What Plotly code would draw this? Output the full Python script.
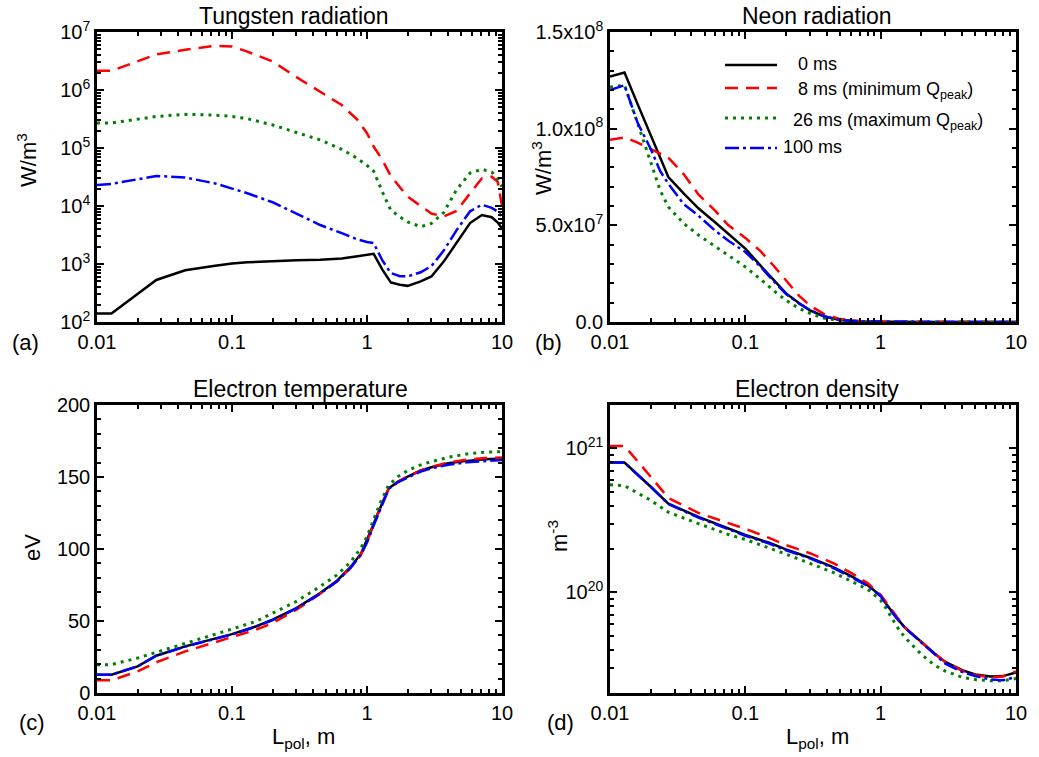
import plotly.graph_objects as go

# ---------------- data ----------------
SERIES_NAMES = ["   0 ms", "   8 ms (minimum Q<sub>peak</sub>)",
                "  26 ms (maximum Q<sub>peak</sub>)", "100 ms"]

# (a) Tungsten radiation, W/m^3
XA = [0.010, 0.0128, 0.0275, 0.045, 0.075, 0.10, 0.13, 0.20, 0.30, 0.45, 0.65, 0.85,
      1.00, 1.12, 1.30, 1.50, 1.75, 2.0, 2.5, 3.0, 3.7, 4.6, 5.8, 7.1, 8.4, 9.3, 10.0]
W_0MS = [140, 140, 530, 780, 930, 1020, 1070, 1130, 1160, 1180, 1240, 1360,
         1440, 1500, 800, 480, 440, 420, 500, 610, 1100, 2350, 5080, 7000, 6400, 5200, 4100]
W_8MS = [2.14e6, 2.14e6, 4.1e6, 4.95e6, 5.8e6, 5.65e6, 4.6e6, 3.1e6, 1.67e6, 9.4e5, 5.5e5, 3.05e5,
         1.8e5, 1.06e5, 6.2e4, 3.3e4, 2.1e4, 1.45e4, 1.0e4, 7.4e3, 6.6e3, 8.2e3, 1.65e4, 3.0e4, 3.2e4, 2.6e4, 1.0e4]
W_26MS = [2.7e5, 2.7e5, 3.5e5, 3.8e5, 3.7e5, 3.5e5, 3.2e5, 2.5e5, 1.85e5, 1.38e5, 9.5e4, 6.6e4,
          5.0e4, 4.0e4, 1.75e4, 8.5e3, 6.5e3, 5.3e3, 4.4e3, 5.0e3, 7.7e3, 1.9e4, 3.7e4, 4.3e4, 3.85e4, 2.9e4, 2.15e4]
W_100MS = [2.3e4, 2.4e4, 3.3e4, 3.1e4, 2.45e4, 2.0e4, 1.66e4, 1.16e4, 7.4e3, 4.7e3, 3.4e3, 2.65e3,
           2.4e3, 2.3e3, 1.15e3, 700, 615, 612, 720, 920, 1.7e3, 3.8e3, 8.1e3, 1.05e4, 9.3e3, 8.0e3, 6.5e3]

# (b) Neon radiation, W/m^3
XB = [0.010, 0.0128, 0.016, 0.020, 0.0235, 0.027, 0.035, 0.045, 0.060, 0.075, 0.10, 0.13,
      0.16, 0.20, 0.25, 0.30, 0.38, 0.50, 0.70, 1.0, 2.0, 10.0]
NE_0MS = [12.7e7, 12.9e7, 11.27e7, 9.63e7, 8.46e7, 7.5e7, 6.65e7, 5.88e7, 5.15e7, 4.58e7, 3.8e7, 2.9e7,
          2.2e7, 1.48e7, 0.97e7, 0.6e7, 0.3e7, 0.1e7, 0.03e7, 0.01e7, 0.003e7, 0.001e7]
NE_8MS = [9.42e7, 9.55e7, 9.28e7, 8.95e7, 8.7e7, 8.5e7, 7.65e7, 6.6e7, 5.75e7, 5.0e7, 4.35e7, 3.65e7,
          2.95e7, 2.16e7, 1.35e7, 0.85e7, 0.42e7, 0.15e7, 0.05e7, 0.02e7, 0.005e7, 0.002e7]
NE_26MS = [12.15e7, 12.25e7, 10.28e7, 8.2e7, 6.8e7, 5.95e7, 5.1e7, 4.5e7, 3.9e7, 3.44e7, 2.85e7, 2.2e7,
           1.65e7, 1.12e7, 0.7e7, 0.45e7, 0.2e7, 0.07e7, 0.02e7, 0.01e7, 0.003e7, 0.001e7]
NE_100MS = [12.0e7, 12.25e7, 10.3e7, 8.95e7, 7.8e7, 7.15e7, 6.1e7, 5.5e7, 4.72e7, 4.2e7, 3.62e7, 2.85e7,
            2.15e7, 1.45e7, 0.95e7, 0.62e7, 0.3e7, 0.1e7, 0.03e7, 0.01e7, 0.003e7, 0.001e7]

# (c) Electron temperature, eV
XC = [0.010, 0.0128, 0.02, 0.0275, 0.045, 0.075, 0.10, 0.15, 0.20, 0.30, 0.45, 0.60, 0.75,
      0.90, 1.0, 1.1, 1.25, 1.45, 1.7, 2.0, 2.5, 3.0, 4.0, 5.5, 7.5, 10.0]
TE_0MS = [12.7, 12.7, 18.5, 25.9, 32.4, 37.7, 40.9, 46.2, 50.9, 59.0, 69.4, 78.0, 87.2,
          96.6, 106.0, 115.6, 128.3, 142.2, 146.8, 150.3, 154.5, 156.8, 159.5, 161.2, 162.3, 162.8]
TE_8MS = [8.8, 8.8, 15.0, 21.3, 28.9, 35.4, 38.8, 43.9, 48.6, 57.8, 68.9, 77.5, 86.7,
          96.0, 105.0, 115.6, 128.3, 142.2, 146.8, 150.3, 154.5, 157.0, 160.0, 162.0, 163.2, 163.5]
TE_26MS = [19.7, 19.7, 24.3, 28.2, 34.7, 40.5, 44.4, 49.7, 55.5, 63.6, 74.0, 82.0, 90.6,
           100.6, 108.7, 119.0, 131.8, 144.5, 150.3, 154.5, 158.4, 160.7, 163.7, 166.0, 167.2, 167.6]
TE_100MS = [12.7, 12.7, 18.5, 25.9, 32.2, 37.5, 40.7, 46.0, 50.7, 58.7, 69.0, 77.6, 86.5,
            95.8, 104.5, 114.5, 127.5, 141.8, 146.5, 149.8, 153.8, 156.0, 158.5, 160.2, 161.3, 161.8]

# (d) Electron density, m^-3
XD = [0.010, 0.0128, 0.02, 0.027, 0.045, 0.075, 0.10, 0.15, 0.20, 0.30, 0.45, 0.60, 0.80,
      1.0, 1.1, 1.3, 1.5, 2.0, 2.5, 3.0, 4.0, 5.0, 6.5, 8.0, 10.0]
NE_D_0MS = [7.96e20, 7.96e20, 5.41e20, 4.13e20, 3.34e20, 2.76e20, 2.5e20, 2.21e20, 1.99e20, 1.74e20,
            1.49e20, 1.30e20, 1.12e20, 9.5e19, 8.3e19, 6.73e19, 5.74e19, 4.52e19, 3.76e19, 3.29e19,
            2.88e19, 2.69e19, 2.6e19, 2.62e19, 2.78e19]
NE_D_8MS = [1.04e21, 1.04e21, 6.35e20, 4.52e20, 3.56e20, 3.04e20, 2.76e20, 2.39e20, 2.13e20, 1.87e20,
            1.59e20, 1.37e20, 1.16e20, 9.6e19, 8.5e19, 6.8e19, 5.74e19, 4.52e19, 3.76e19, 3.29e19,
            2.85e19, 2.66e19, 2.58e19, 2.6e19, 2.83e19]
NE_D_26MS = [5.59e20, 5.5e20, 4.36e20, 3.6e20, 3.0e20, 2.52e20, 2.33e20, 2.04e20, 1.84e20, 1.59e20,
             1.37e20, 1.2e20, 1.05e20, 8.8e19, 7.7e19, 5.9e19, 4.9e19, 3.7e19, 3.12e19, 2.84e19,
             2.57e19, 2.48e19, 2.43e19, 2.43e19, 2.52e19]
NE_D_100MS = [7.96e20, 7.96e20, 5.41e20, 4.1e20, 3.3e20, 2.73e20, 2.47e20, 2.18e20, 1.96e20, 1.72e20,
              1.47e20, 1.28e20, 1.11e20, 9.4e19, 8.2e19, 6.7e19, 5.7e19, 4.48e19, 3.7e19, 3.2e19,
              2.8e19, 2.62e19, 2.48e19, 2.45e19, 2.58e19]

X_TICKS = [0.01, 0.1, 1, 10]
X_TICKTEXT = ["0.01", "0.1", "1", "10"]

# ---------------- styling ----------------
FONT = "Liberation Sans, Arial, sans-serif"
W, H = 1039, 757
STYLES = [
    dict(color="black", width=2.5, dash="solid"),
    dict(color="#ff0000", width=2.5, dash="13px,8px"),
    dict(color="#008000", width=3, dash="3px,5px"),
    dict(color="#0000ff", width=2.5, dash="14px,4px,3px,4px"),
]

def px(x):
    return x / W

def py(y):
    return 1 - y / H

def log_minors(lo, hi):
    vals = []
    for e in range(lo, hi):
        for m in range(2, 10):
            vals.append(float(m) * 10.0 ** e)
    return vals

fig = go.Figure()

panels = [
    ("x", "y", XA, [W_0MS, W_8MS, W_26MS, W_100MS]),
    ("x2", "y2", XB, [NE_0MS, NE_8MS, NE_26MS, NE_100MS]),
    ("x3", "y3", XC, [TE_0MS, TE_8MS, TE_26MS, TE_100MS]),
    ("x4", "y4", XD, [NE_D_0MS, NE_D_8MS, NE_D_26MS, NE_D_100MS]),
]
for xa, ya, xs, series in panels:
    for name, ys, st in zip(SERIES_NAMES, series, STYLES):
        fig.add_trace(go.Scatter(x=xs, y=ys, mode="lines", name=name, xaxis=xa, yaxis=ya,
                                 line=st, showlegend=False))

common = dict(showline=True, linecolor="black", linewidth=2.5, mirror="allticks",
              ticks="inside", ticklen=7, tickwidth=2, tickcolor="black",
              showgrid=False, zeroline=False, automargin=False,
              tickfont=dict(family=FONT, size=20, color="black"))
minor_common = dict(ticks="inside", ticklen=4, tickwidth=1.5, tickcolor="black", showgrid=False)

xaxis_common = dict(common, type="log", range=[-2, 1], tickmode="array",
                    tickvals=X_TICKS, ticktext=X_TICKTEXT,
                    minor=dict(minor_common, tickmode="array", tickvals=log_minors(-2, 1)))

dom_left = [px(97), px(502)]
dom_right = [px(610), px(1016)]
dom_top = [py(322), py(32)]
dom_bot = [py(693), py(405)]

fig.update_layout(
    xaxis=dict(xaxis_common, domain=dom_left, anchor="y"),
    xaxis2=dict(xaxis_common, domain=dom_right, anchor="y2"),
    xaxis3=dict(xaxis_common, domain=dom_left, anchor="y3"),
    xaxis4=dict(xaxis_common, domain=dom_right, anchor="y4"),
    yaxis=dict(common, type="log", range=[2, 7], domain=dom_top, anchor="x",
               tickmode="array", tickvals=[1e2, 1e3, 1e4, 1e5, 1e6, 1e7],
               ticktext=["10<sup>%d</sup>" % k for k in range(2, 8)],
               minor=dict(minor_common, tickmode="array", tickvals=log_minors(2, 7))),
    yaxis2=dict(common, type="linear", range=[0, 1.5e8], domain=dom_top, anchor="x2",
                tickmode="array", tickvals=[0, 5e7, 1e8, 1.5e8],
                ticktext=["0.0", "5.0x10<sup>7</sup>", "1.0x10<sup>8</sup>", "1.5x10<sup>8</sup>"],
                minor=dict(minor_common, tickmode="linear", tick0=0, dtick=1e7)),
    yaxis3=dict(common, type="linear", range=[0, 200], domain=dom_bot, anchor="x3",
                tickmode="array", tickvals=[0, 50, 100, 150, 200],
                ticktext=["0", "50", "100", "150", "200"],
                minor=dict(minor_common, tickmode="linear", tick0=0, dtick=10)),
    yaxis4=dict(common, type="log", range=[19.30103, 21.30103], domain=dom_bot, anchor="x4",
                tickmode="array", tickvals=[1e20, 1e21],
                ticktext=["10<sup>20</sup>", "10<sup>21</sup>"],
                minor=dict(minor_common, tickmode="array",
                           tickvals=[v for v in log_minors(19, 21) if v > 2.05e19])),
    width=W, height=H, margin=dict(l=0, r=0, t=0, b=0, autoexpand=False),
    paper_bgcolor="white", plot_bgcolor="white",
    font=dict(family=FONT, color="black"),
    showlegend=False,
)

def ann(text, x, y, size=22, angle=0, xanchor="center"):
    fig.add_annotation(text=text, x=px(x), y=py(y), xref="paper", yref="paper",
                       xanchor=xanchor, yanchor="middle", showarrow=False, textangle=angle,
                       font=dict(family=FONT, size=size, color="black"))

# legend drawn inside panel (b): line samples + labels
LEG_X0, LEG_X1, LEG_TEXT_X = 725, 777, 781
LEG_ROWS = [65, 88, 118, 148]
LEG_TEXT_ROWS = [64, 91, 122, 147]
for name, st, yy, yt in zip(SERIES_NAMES, STYLES, LEG_ROWS, LEG_TEXT_ROWS):
    fig.add_shape(type="line", xref="paper", yref="paper",
                  x0=px(LEG_X0), x1=px(LEG_X1), y0=py(yy), y1=py(yy),
                  line=dict(color=st["color"], width=st["width"], dash=st["dash"]))
    ann(name, LEG_TEXT_X, yt, size=18, xanchor="left")

ann("Tungsten radiation", 294, 16, size=23)
ann("Neon radiation", 817, 16, size=23)
ann("Electron temperature", 300, 389, size=23)
ann("Electron density", 817, 389, size=23)
ann("(a)", 25, 342)
ann("(b)", 548, 342)
ann("(c)", 32, 722)
ann("(d)", 560, 722)
ann("W/m<sup>3</sup>", 27, 160, angle=-90)
ann("W/m<sup>3</sup>", 542, 168, angle=-90)
ann("eV", 32, 548, angle=-90)
ann("m<sup>-3</sup>", 558, 536, angle=-90)
ann("L<sub>pol</sub>, m", 303, 738)
ann("L<sub>pol</sub>, m", 817, 738)

fig.write_html("out.html")
